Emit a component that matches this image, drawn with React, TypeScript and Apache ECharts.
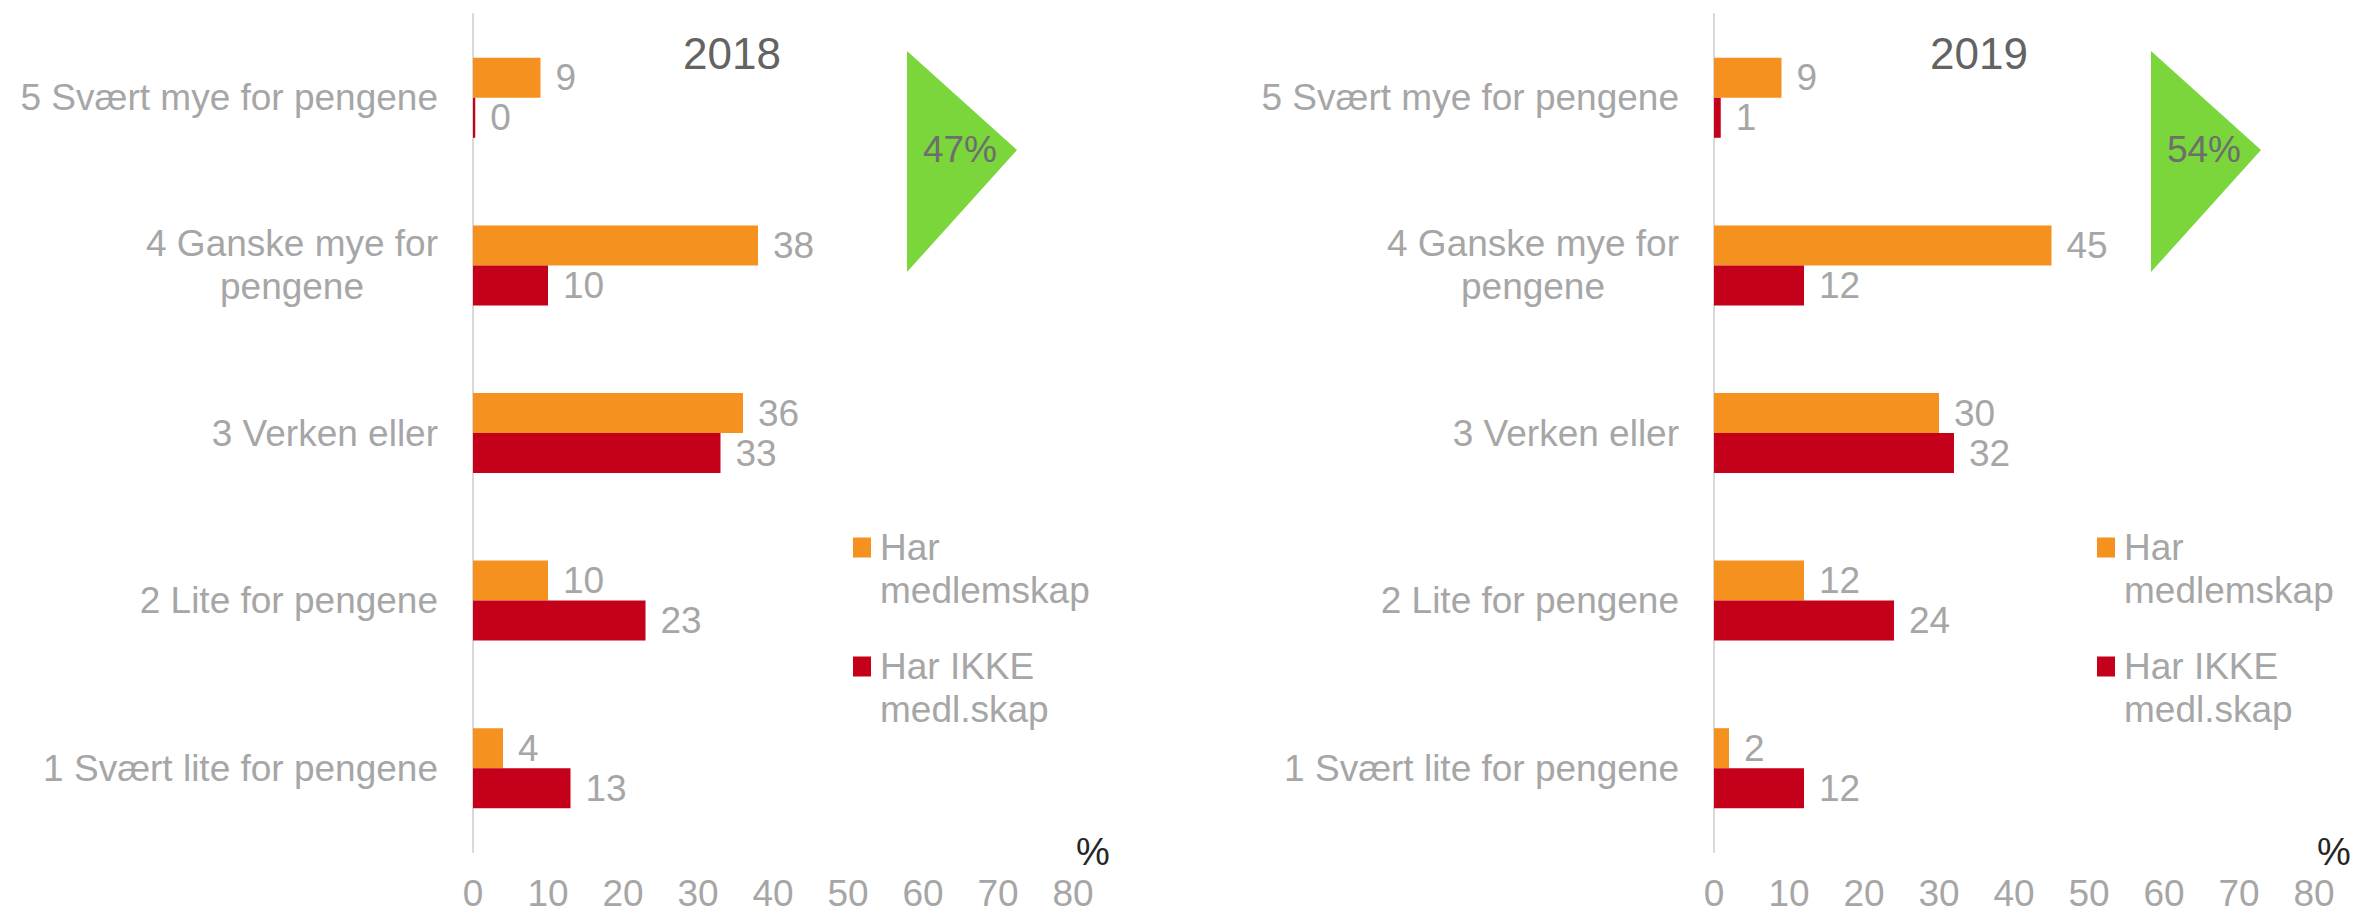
import React, { useEffect, useRef } from 'react';
import * as echarts from 'echarts';

// ---------- data ----------
const categories = [
  '5 Svært mye for pengene',
  '4 Ganske mye for\npengene',
  '3 Verken eller',
  '2 Lite for pengene',
  '1 Svært lite for pengene',
];
const years = ['2018', '2019'];
const seriesNames = ['Har medlemskap', 'Har IKKE medl.skap'];
const legendLabels = ['Har\nmedlemskap', 'Har IKKE\nmedl.skap'];
const members2018 = [9, 38, 36, 10, 4];
const nonMembers2018 = [0.3, 10, 33, 23, 13];
const members2019 = [9, 45, 30, 12, 2];
const nonMembers2019 = [0.9, 12, 32, 24, 12];
const topShares = [47, 54];
const xMin = 0;
const xMax = 80;
const xStep = 10;
const unitLabel = '%';

// ---------- styles / layout ----------
const FONT = '"Liberation Sans", Arial, sans-serif';
const FS = 37;
const ORANGE = '#F5911E';
const RED = '#C5001A';
const GREEN = '#7AD63A';
const GRAY = '#A6A6A6';
const W = 2356;
const H = 914;
const GRID_TOP = 14;
const GRID_H = 838;
const GRID_W = 600;
const GRID_LEFTS = [473, 1714];
const LEGEND_LEFTS = [853, 2097];
const TITLE_X = [732, 1979];
const TRI_X = [907, 2151];

export default function App() {
  const ref = useRef<HTMLDivElement>(null);

  useEffect(() => {
    if (!ref.current) return;
    const chart = echarts.init(ref.current, undefined, { renderer: 'svg', width: W, height: H });

    const data = [
      [members2018, nonMembers2018],
      [members2019, nonMembers2019],
    ];

    const grids = GRID_LEFTS.map((left) => ({ left, top: GRID_TOP, width: GRID_W, height: GRID_H }));

    const xAxes = GRID_LEFTS.map((_, i) => ({
      type: 'value',
      gridIndex: i,
      min: xMin,
      max: xMax,
      interval: xStep,
      axisLine: { show: false },
      axisTick: { show: false },
      splitLine: { show: false },
      axisLabel: { fontSize: FS, color: GRAY, fontFamily: FONT, margin: 23 },
      name: unitLabel,
      nameLocation: 'end',
      nameGap: 3,
      nameTextStyle: { fontSize: 38, color: '#262626', fontFamily: FONT, padding: [0, 0, 46, 0] },
    }));

    const yAxes = GRID_LEFTS.map((_, i) => ({
      type: 'category',
      gridIndex: i,
      data: categories,
      inverse: true,
      axisLine: { show: true, lineStyle: { color: '#D9D9D9', width: 2 } },
      axisTick: { show: false },
      axisLabel: {
        margin: 35,
        fontSize: FS,
        color: GRAY,
        fontFamily: FONT,
        lineHeight: 43,
        formatter: (v: string) => v.split('\n').map((l) => `{c|${l}}`).join('\n'),
        rich: { c: { fontSize: FS, color: GRAY, fontFamily: FONT, lineHeight: 43, align: 'center' } },
      },
    }));

    const series: any[] = [];
    data.forEach((pair, gi) => {
      pair.forEach((values, si) => {
        series.push({
          type: 'bar',
          name: seriesNames[si],
          xAxisIndex: gi,
          yAxisIndex: gi,
          data: values,
          barWidth: 40,
          barGap: '0%',
          itemStyle: { color: si === 0 ? ORANGE : RED },
          label: {
            show: true,
            position: 'right',
            distance: 15,
            fontSize: FS,
            color: GRAY,
            fontFamily: FONT,
            formatter: (p: any) => String(Math.round(p.value)),
          },
        });
      });
    });

    const legends = LEGEND_LEFTS.map((left) => ({
      orient: 'vertical',
      left,
      top: 483,
      padding: 0,
      itemWidth: 18,
      itemHeight: 20,
      itemGap: -10,
      icon: 'rect',
      selectedMode: false,
      data: seriesNames,
      // leading empty line puts the first text line level with the legend square
      formatter: (name: string) => '\n' + legendLabels[seriesNames.indexOf(name)],
      textStyle: {
        fontSize: FS,
        color: GRAY,
        fontFamily: FONT,
        lineHeight: 43,
        padding: [0, 0, 0, 4],
      },
    }));

    const graphics: any[] = [];
    years.forEach((y, i) => {
      graphics.push({
        type: 'text',
        x: TITLE_X[i],
        y: 53,
        style: { text: y, fontSize: 44, fill: '#636363', fontFamily: FONT, align: 'center', verticalAlign: 'middle' },
      });
      graphics.push({
        type: 'polygon',
        shape: { points: [[TRI_X[i], 51], [TRI_X[i] + 110, 150], [TRI_X[i], 272]] },
        style: { fill: GREEN },
      });
      graphics.push({
        type: 'text',
        x: TRI_X[i] + 53,
        y: 149,
        style: { text: `${topShares[i]}%`, fontSize: 37, fill: '#6E6E6E', fontFamily: FONT, align: 'center', verticalAlign: 'middle' },
      });
    });

    chart.setOption({
      animation: false,
      backgroundColor: '#FFFFFF',
      grid: grids,
      xAxis: xAxes,
      yAxis: yAxes,
      legend: legends,
      series,
      graphic: graphics,
    });

    return () => chart.dispose();
  }, []);

  return <div ref={ref} style={{ position: 'fixed', left: 0, top: 0, width: W, height: H }} />;
}
